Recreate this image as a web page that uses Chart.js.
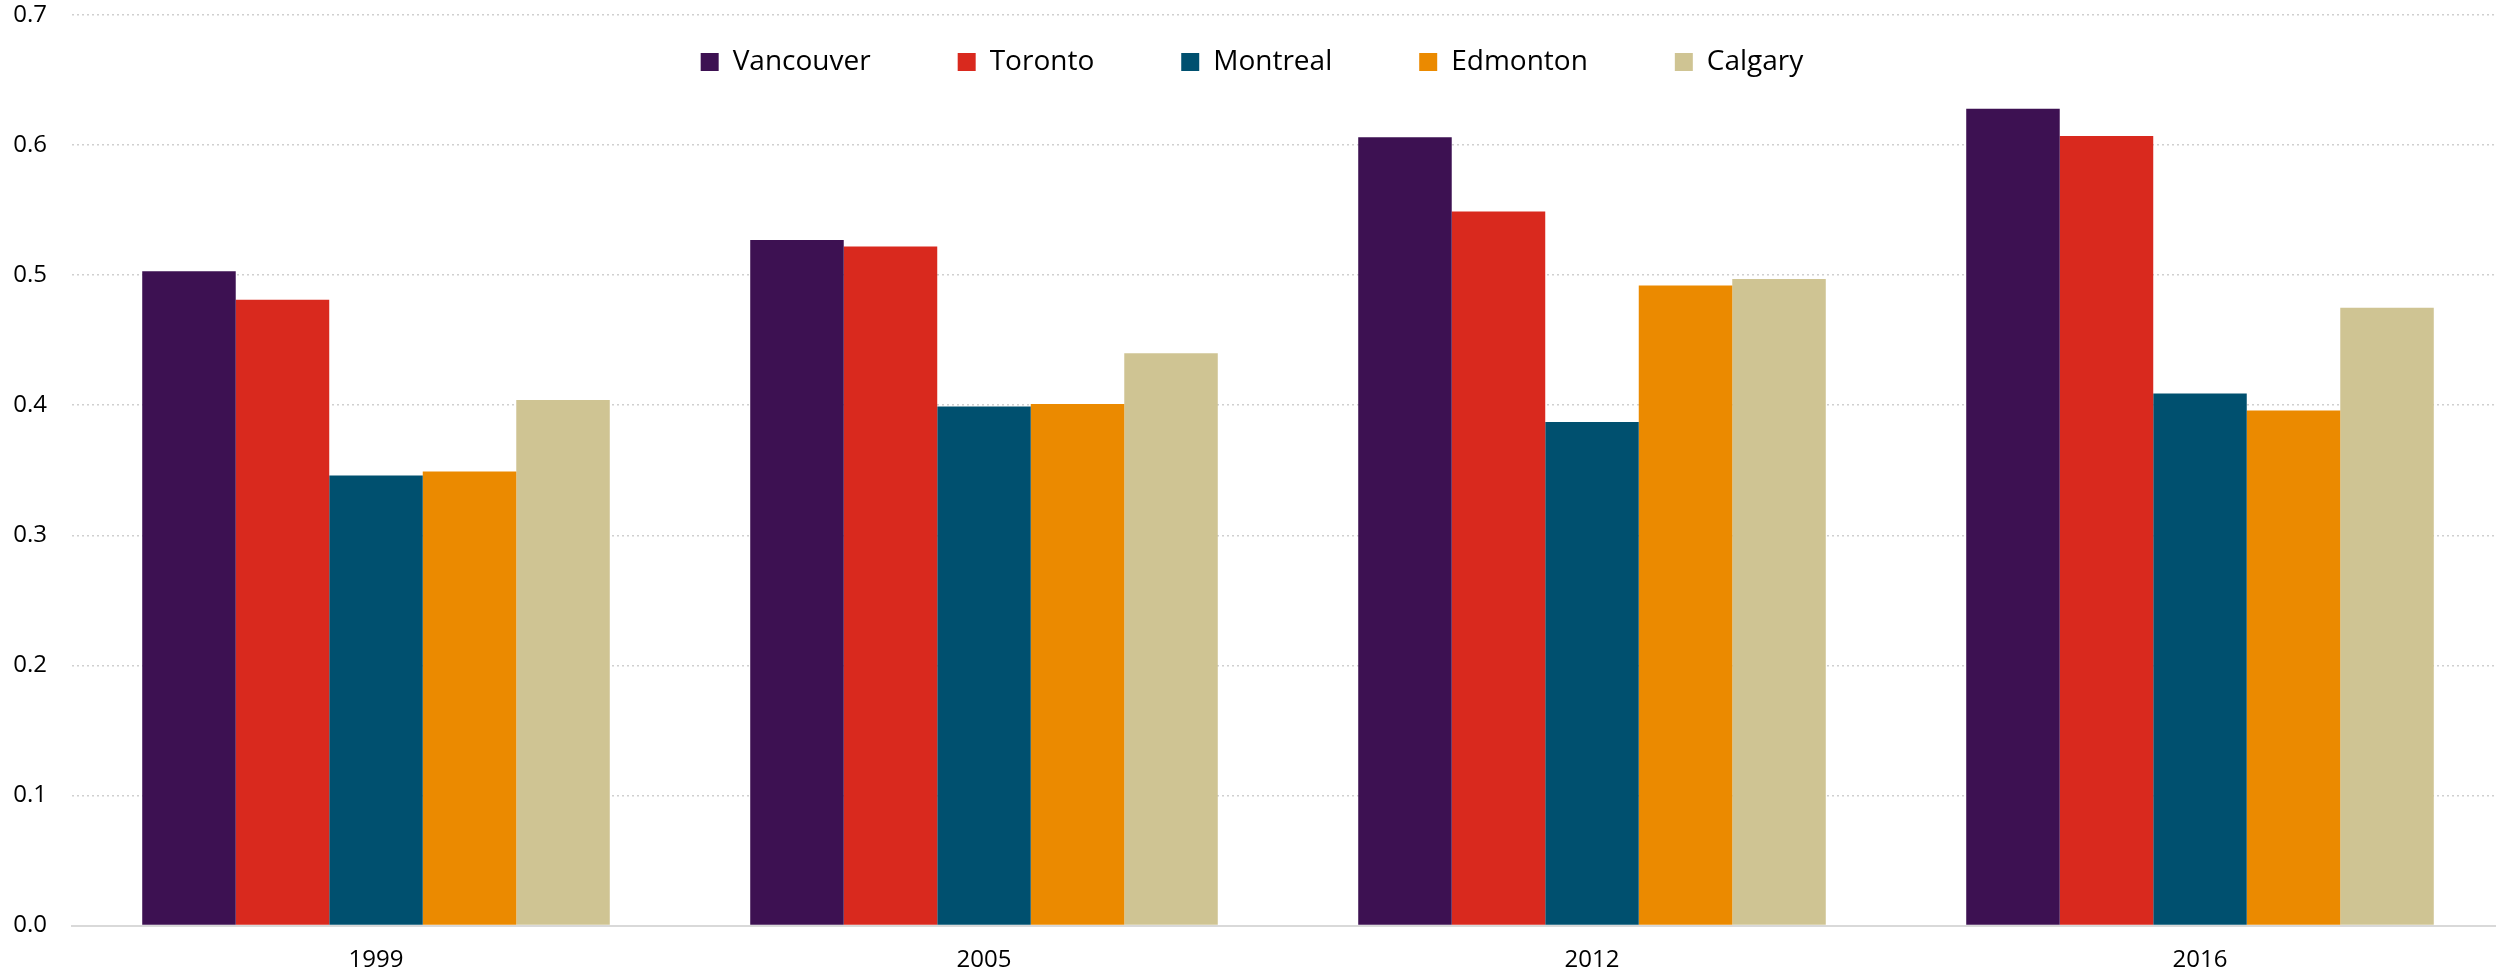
<!DOCTYPE html>
<html>
<head>
<meta charset="utf-8">
<script src="https://cdn.jsdelivr.net/npm/chart.js@4.4.1/dist/chart.umd.min.js"></script>
<style>
  html, body { margin: 0; padding: 0; background: #ffffff; overflow: hidden; }
  #wrap { width: 2504px; height: 973px; }
</style>
</head>
<body>
<div id="wrap"><canvas id="c" width="2504" height="973"></canvas></div>
<script>
// ---- data ----
const categories = ['1999', '2005', '2012', '2016'];
const seriesNames = ['Vancouver', 'Toronto', 'Montreal', 'Edmonton', 'Calgary'];
const vancouver = [0.503, 0.527, 0.606, 0.628];
const toronto   = [0.481, 0.522, 0.549, 0.607];
const montreal  = [0.346, 0.399, 0.387, 0.409];
const edmonton  = [0.349, 0.401, 0.492, 0.396];
const calgary   = [0.404, 0.440, 0.497, 0.475];
const yTickValues = [0.0, 0.1, 0.2, 0.3, 0.4, 0.5, 0.6, 0.7];
const seriesColors = ['#3D1152', '#D9291E', '#00506F', '#EB8A00', '#CFC493'];

const seriesValues = [vancouver, toronto, montreal, edmonton, calgary];

const LEG_PAD = 87, LEG_FONT = 28, LEG_CENTER_Y = 62;

// legend drawn inside the plot area (takes no layout space)
const legendInside = {
  id: 'legendInside',
  beforeUpdate(chart) {
    const lg = chart.legend;
    if (lg && !lg._insidePatched) {
      const origFit = lg.fit;
      lg.fit = function () { origFit.call(this); this.height = 0; };
      lg._insidePatched = true;
    }
  },
  afterLayout(chart) {
    const lg = chart.legend;
    if (!lg) return;
    lg.top = LEG_CENTER_Y - LEG_PAD - LEG_FONT / 2;
    lg.bottom = 140;
    lg.height = lg.bottom - lg.top;
  }
};

new Chart(document.getElementById('c'), {
  type: 'bar',
  data: {
    labels: categories,
    datasets: seriesNames.map((name, i) => ({
      label: name,
      data: seriesValues[i],
      backgroundColor: seriesColors[i],
      borderWidth: 0,
      categoryPercentage: 0.769,
      barPercentage: 1.0
    }))
  },
  options: {
    responsive: false,
    animation: false,
    devicePixelRatio: 1,
    layout: { padding: { top: 15, right: 0, bottom: 0, left: 0 } },
    plugins: {
      tooltip: { enabled: false },
      legend: {
        display: true,
        position: 'top',
        align: 'center',
        labels: {
          boxWidth: 18,
          boxHeight: 18,
          padding: LEG_PAD,
          color: '#000000',
          font: { family: "'Open Sans', sans-serif", size: LEG_FONT }
        }
      }
    },
    scales: {
      x: {
        grid: { display: false, drawTicks: false },
        border: { display: true, color: '#d9d9d9', width: 2 },
        ticks: {
          color: '#000000',
          font: { family: "'Open Sans', sans-serif", size: 24 },
          padding: 20,
          autoSkip: false,
          maxRotation: 0
        },
        afterFit(scale) { scale.height = 47.5; scale.paddingLeft = 0; scale.paddingRight = 0; }
      },
      y: {
        min: yTickValues[0],
        max: yTickValues[yTickValues.length - 1],
        afterBuildTicks(scale) { scale.ticks = yTickValues.map(v => ({ value: v })); },
        grid: {
          drawTicks: false,
          lineWidth: 1.5,
          color: (ctx) => (ctx.tick && ctx.tick.value === 0) ? 'rgba(0,0,0,0)' : '#d0d0d0'
        },
        border: { display: false, dash: [2, 3] },
        ticks: {
          color: '#000000',
          font: { family: "'Open Sans', sans-serif", size: 24 },
          padding: 25,
          callback: (v) => Number(v).toFixed(1)
        },
        afterFit(scale) { scale.width = 72; scale.paddingTop = 0; scale.paddingBottom = 0; }
      }
    }
  },
  plugins: [legendInside]
});
</script>
</body>
</html>
